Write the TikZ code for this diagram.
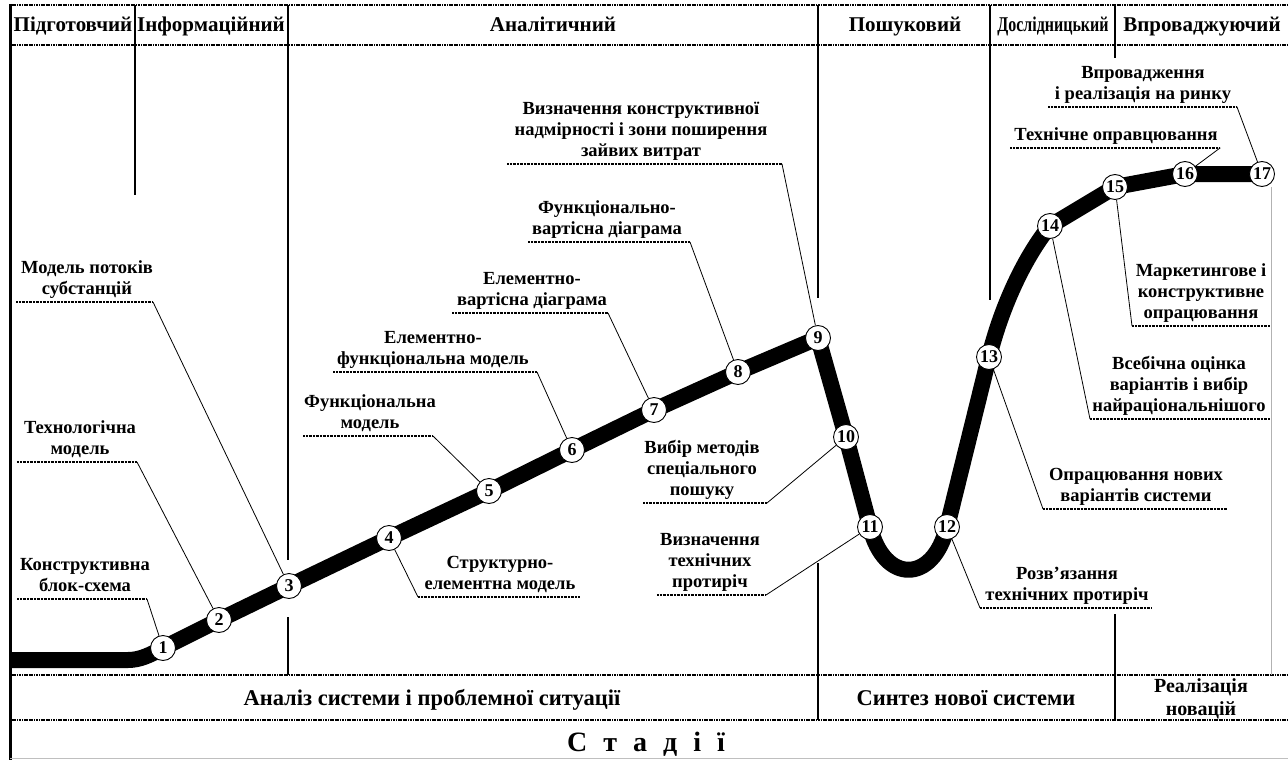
\documentclass[tikz,border=0pt]{standalone}
\usepackage{fontspec}
\setmainfont{Liberation Serif}
\usetikzlibrary{backgrounds}
\begin{document}
\begin{tikzpicture}[x=1pt,y=-1pt,
  num/.style={circle,draw,fill=white,line width=0.9pt,inner sep=0pt,minimum size=25pt,font=\fontsize{18}{18}\selectfont\bfseries},
  hdr/.style={font=\fontsize{21}{21}\selectfont\bfseries,inner sep=0pt,anchor=base},
  bot/.style={font=\fontsize{22.5}{22.5}\selectfont\bfseries,inner sep=0pt,anchor=base},
  lbl/.style={font=\fontsize{18.5}{21}\selectfont\bfseries,align=center,anchor=south,inner sep=0pt,text depth=4pt},
  hrule/.style={line width=2.6pt,dash pattern=on 1.2pt off 0.5pt},
  vline/.style={line width=2.2pt},
  uline/.style={line width=1.3pt,dash pattern=on 0.9pt off 0.5pt},
  leader/.style={line width=0.8pt},
  track/.style={line width=16pt,line join=round}
]
\useasboundingbox (0,0) rectangle (1288,760);
% frame
\draw[line width=3pt] (10,4) -- (10,760);
\draw[hrule] (10,5) -- (1288,5);
\draw[hrule] (10,45) -- (1288,45);
\draw[hrule] (10,675) -- (1288,675);
\draw[hrule] (10,720) -- (1288,720);
\draw[black!25,line width=0.8pt] (10,758) -- (1288,758);
% vertical dividers
\draw[vline] (135,5) -- (135,195);
\draw[vline] (288,5) -- (288,560);
\draw[vline] (288,617) -- (288,675);
\draw[vline] (818,5) -- (818,298);
\draw[vline] (818,563) -- (818,720);
\draw[vline] (990,5) -- (990,300);
\draw[vline] (1115,5) -- (1115,58);
\draw[vline] (1115,614) -- (1115,720);
% header
\node[hdr] (h1) at (73,32) {Підготовчий};
\node[hdr] (h2) at (211,32) {Інформаційний};
\node[hdr] (h3) at (553,32) {Аналітичний};
\node[hdr] (h4) at (905,32) {Пошуковий};
\node[hdr] (h5) at (1053,32) {\scalebox{0.76}[1]{Дослідницький}};
\node[hdr] (h6) at (1202,32) {Впроваджуючий};
% bottom rows
\node[bot] (b1) at (432,705) {Аналіз системи і проблемної ситуації};
\node[bot] (b2) at (966,705) {Синтез нової системи};
\node[bot,font=\fontsize{20}{20}\selectfont\bfseries] (b3a) at (1201,692) {Реалізація};
\node[bot,font=\fontsize{20}{20}\selectfont\bfseries] (b3b) at (1201,715) {новацій};
\node[font=\fontsize{28}{28}\selectfont\bfseries,inner sep=0pt,anchor=base] (st) at (646,751)
  {С\hspace{16pt}т\hspace{16pt}а\hspace{16pt}д\hspace{16pt}і\hspace{16pt}ї};
% numbered nodes
\node[num] (n1) at (163,648) {1};
\node[num] (n2) at (219,620) {2};
\node[num] (n3) at (289,586) {3};
\node[num] (n4) at (389,538) {4};
\node[num] (n5) at (489,491) {5};
\node[num] (n6) at (572,450) {6};
\node[num] (n7) at (654,410) {7};
\node[num] (n8) at (738,372) {8};
\node[num] (n9) at (818,338) {9};
\node[num] (n10) at (846,437) {10};
\node[num] (n11) at (870,527) {11};
\node[num] (n12) at (947,527) {12};
\node[num] (n13) at (989,357) {13};
\node[num] (n14) at (1050,226) {14};
\node[num] (n15) at (1115,187) {15};
\node[num] (n16) at (1185,174) {16};
\node[num] (n17) at (1262,174) {17};
\draw[black!30,line width=0.8pt] (n17.south) ++(9,0) coordinate (g1) -- (1271,675);
% track
\begin{scope}[on background layer]
\coordinate (t0) at (12,660);
\draw[track] (t0) -- (128,660) .. controls (140,660) and (150,655) .. (n1.center)
  -- (n2.center) -- (n3.center) -- (n4.center) -- (n5.center) -- (n6.center)
  -- (n7.center) -- (n8.center) -- (n9.center) -- (n10.center) -- (n11.center)
  .. controls (884,584) and (933,584) .. (n12.center) -- (n13.center)
  .. controls (1004,297) and (1030,250) .. (n14.center) -- (n15.center)
  -- (n16.center) -- (n17.center);
\end{scope}
% labels
\newcommand{\lab}[7]{%
  \node[lbl] (#1) at (#2,#4-3) {#7};
  \coordinate (#1a) at (#5,#4);
  \coordinate (#1b) at (#6,#4);
  \draw[uline] (#1a) -- (#1b);
}
\lab{L1}{85}{}{599}{17}{147}{Конструктивна\\блок-схема}
\draw[leader] (L1b) -- (n1);
\lab{L2}{80}{}{462}{17}{137}{Технологічна\\модель}
\draw[leader] (L2b) -- (n2);
\lab{L3}{87}{}{302}{16}{153}{Модель потоків\\субстанцій}
\draw[leader] (L3b) -- (n3);
\lab{L4}{500}{}{597}{418}{580}{Структурно-\\елементна модель}
\draw[leader] (L4a) -- (n4);
\lab{L5}{370}{}{436}{303}{433}{Функціональна\\модель}
\draw[leader] (L5b) -- (n5);
\lab{L6}{433}{}{372}{333}{537}{Елементно-\\функціональна модель}
\draw[leader] (L6b) -- (n6);
\lab{L7}{532}{}{313}{452}{608}{Елементно-\\вартісна діаграма}
\draw[leader] (L7b) -- (n7);
\lab{L8}{607}{}{242}{528}{690}{Функціонально-\\вартісна діаграма}
\draw[leader] (L8b) -- (n8);
\lab{L9}{641}{}{164}{507}{782}{Визначення конструктивної\\надмірності і зони поширення\\зайвих витрат}
\draw[leader] (L9b) -- (n9);
\lab{L10}{702}{}{503}{643}{767}{Вибір методів\\спеціального\\пошуку}
\draw[leader] (L10b) -- (n10);
\lab{L11}{710}{}{595}{657}{766}{Визначення\\технічних\\протиріч}
\draw[leader] (L11b) -- (n11);
\lab{L12}{1067}{}{608}{980}{1152}{Розв’язання\\технічних протиріч}
\draw[leader] (L12a) -- (n12);
\lab{L13}{1136}{}{509}{1043}{1227}{Опрацювання нових\\варіантів системи}
\draw[leader] (L13a) -- (n13);
\lab{L14}{1179}{}{419}{1090}{1270}{Всебічна оцінка\\варіантів і вибір\\найраціональнішого}
\draw[leader] (L14a) -- (n14);
\lab{L15}{1201}{}{326}{1132}{1270}{Маркетингове і\\конструктивне\\опрацювання}
\draw[leader] (L15a) -- (n15);
\lab{L16}{1116}{}{148}{1010}{1220}{Технічне оправцювання}
\draw[leader] (L16b) -- (n16);
\lab{L17}{1143}{}{107}{1048}{1237}{Впровадження\\і реалізація на ринку}
\draw[leader] (L17b) -- (n17);
\end{tikzpicture}
\end{document}
